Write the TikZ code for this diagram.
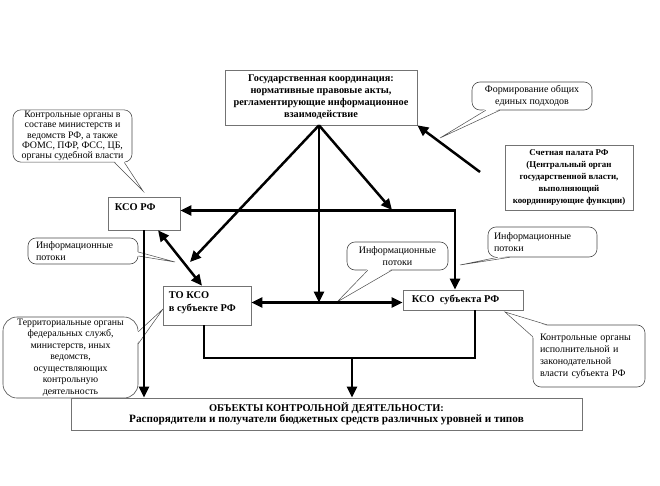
\documentclass[tikz,border=0pt]{standalone}
\usepackage{fontspec}
\setmainfont{Liberation Serif}
\usetikzlibrary{arrows.meta,calc}
\tikzset{
  box/.style={draw=black!55, line width=0.6pt, fill=white, inner sep=1pt,
    font=\bfseries\fontsize{10.3}{12}\selectfont, align=center},
  boxlabel/.style={font=\bfseries\fontsize{10.4}{12.5}\selectfont, align=left, inner sep=0pt},
  bub/.style={draw=black!70, line width=0.6pt, fill=white, rounded corners=8pt,
    inner sep=1pt, font=\fontsize{10}{12}\selectfont, align=center},
  bubline/.style={draw=black!70, line width=0.5pt},
  arr/.style={line width=2.5pt, draw=black, -{Triangle[length=11pt,width=10pt]}},
  darr/.style={line width=2.5pt, draw=black, {Triangle[length=11pt,width=10pt]}-{Triangle[length=11pt,width=10pt]}},
  ln/.style={line width=2.5pt, draw=black},
}
\newcommand\calltail[4]{%
  \fill[white] ($(#1)+(#4)$) -- (#3) -- ($(#2)+(#4)$) -- cycle;
  \draw[bubline] (#1) -- (#3) -- (#2);}
\begin{document}
\begin{tikzpicture}[x=1pt,y=-1pt]
\useasboundingbox[fill=white] (0,0) rectangle (660,486);

% ---- callout bubbles ----
\node[bub, minimum width=119pt, minimum height=52pt, font=\fontsize{9.9}{10.4}\selectfont] (c1) at (72.5,136)
  {Контрольные органы в\\ составе министерств и\\ ведомств РФ, а также\\ ФОМС, ПФР, ФСС, ЦБ,\\ органы судебной власти};
\node[bub, minimum width=120pt, minimum height=28pt] (c2) at (532,96)
  {Формирование общих\\ единых подходов};
\node[bub, minimum width=110pt, minimum height=26pt, align=left, text width=94pt] (c3) at (83,251)
  {Информационные\\ потоки};
\node[bub, minimum width=101pt, minimum height=28pt] (c4) at (397.5,256)
  {Информационные\\ потоки};
\node[bub, minimum width=109pt, minimum height=30pt, align=left, text width=97pt] (c5) at (542.5,242)
  {Информационные\\ потоки};
\node[bub, minimum width=112pt, minimum height=62pt, align=left, text width=98pt] (c6) at (589,356)
  {Контрольные органы\\ исполнительной и\\ законодательной\\ власти субъекта РФ};
\node[bub, rounded corners=14pt, minimum width=135pt, minimum height=81pt,
  font=\fontsize{9.8}{11.5}\selectfont] (c7) at (70.5,357.5)
  {Территориальные органы\\ федеральных служб,\\ министерств, иных\\ ведомств,\\ осуществляющих\\ контрольную\\ деятельность};

% tail anchor points and tips
\coordinate (c1a) at ($(c1.south east)+(-18,0)$);
\coordinate (c1b) at ($(c1.south east)+(-8,0)$);
\coordinate (c1t) at (143,191);
\coordinate (c2a) at ($(c2.south west)+(14,0)$);
\coordinate (c2b) at ($(c2.south west)+(28,0)$);
\coordinate (c2t) at (440,138);
\coordinate (c3a) at ($(c3.east)+(0,1)$);
\coordinate (c3b) at ($(c3.east)+(0,5)$);
\coordinate (c3t) at (175,262);
\coordinate (c4a) at ($(c4.south west)+(21,0)$);
\coordinate (c4b) at ($(c4.south west)+(45,0)$);
\coordinate (c4t) at (337,302);
\coordinate (c5a) at ($(c5.south west)+(10,0)$);
\coordinate (c5b) at ($(c5.south west)+(22,0)$);
\coordinate (c5t) at (460,265);
\coordinate (c6a) at ($(c6.north west)+(0,12)$);
\coordinate (c6b) at ($(c6.north west)+(14,0)$);
\coordinate (c6t) at (505,312);
\coordinate (c7a) at ($(c7.north east)+(0,15)$);
\coordinate (c7b) at ($(c7.north east)+(0,27)$);
\coordinate (c7t) at (163,309);

\calltail{c1a}{c1b}{c1t}{0,-1.5}
\calltail{c2a}{c2b}{c2t}{0,-1.5}
\calltail{c3a}{c3b}{c3t}{-1.5,0}
\calltail{c4a}{c4b}{c4t}{0,-1.5}
\calltail{c5a}{c5b}{c5t}{0,-1.5}
\calltail{c6a}{c6b}{c6t}{1.5,1.5}
\calltail{c7a}{c7b}{c7t}{-1.5,0}

% ---- boxes ----
\node[box, minimum width=192pt, minimum height=55pt] (top) at (321,97.5)
  {Государственная координация:\\ нормативные правовые акты,\\ регламентирующие информационное\\ взаимодействие};
\node[box, minimum width=128pt, minimum height=65pt, font=\bfseries\fontsize{8.9}{12}\selectfont] (sp) at (569,177.5)
  {Счетная палата РФ\\ (Центральный орган\\ государственной власти,\\ выполняющий\\ координирующие функции)};
\node[box, minimum width=72pt, minimum height=33pt] (ksorf) at (144,213.5) {};
\node[boxlabel, anchor=west] (ksorfl) at ($(ksorf.north west)+(7,10)$) {КСО РФ};
\node[box, minimum width=88pt, minimum height=39pt] (toks) at (207,305.5) {};
\node[boxlabel, anchor=west] (toksl) at ($(toks.west)+(6,-3)$) {ТО КСО\\ в субъекте РФ};
\node[box, minimum width=120pt, minimum height=20pt] (ksosub) at (463,300) {};
\node[boxlabel, anchor=west] (ksosubl) at ($(ksosub.west)+(9,0)$) {КСО\ \ субъекта РФ};
\node[box, minimum width=511pt, minimum height=32pt, font=\bfseries] (obj) at (326.5,414)
  {{\fontsize{10.4}{12}\selectfont ОБЪЕКТЫ КОНТРОЛЬНОЙ ДЕЯТЕЛЬНОСТИ:}\\[-1pt]
   {\fontsize{11.2}{12}\selectfont Распорядители и получатели бюджетных средств различных уровней и типов}};

% ---- connectors ----
\coordinate (apex) at ([xshift=-2pt]top.south);
\coordinate (hl) at ([yshift=3pt]toks.east);
\coordinate (p1) at (190,262);
\coordinate (p3) at (392,210);
\coordinate (spst) at (480,172);
\coordinate (bj) at (352,358);

\draw[arr] (apex) -- (p1);
\draw[arr] (apex) -- (hl -| apex);
\draw[arr] (apex) -- (p3);
\draw[arr] (spst) -- (top.south east);
\draw[darr] ([yshift=3pt]ksorf.east) -| ([xshift=-8pt]ksosub.north);
\draw[arr] (ksorf.south) -- (ksorf.south |- obj.north);
\draw[darr] ([xshift=14pt]ksorf.south) -- ([xshift=-5pt]toks.north);
\draw[darr] (hl) -- (hl -| ksosub.west);
\draw[ln] ([xshift=-3pt]toks.south) |- (bj) -| ([xshift=12pt]ksosub.south);
\draw[arr] (bj) -- (bj |- obj.north);
\end{tikzpicture}
\end{document}
